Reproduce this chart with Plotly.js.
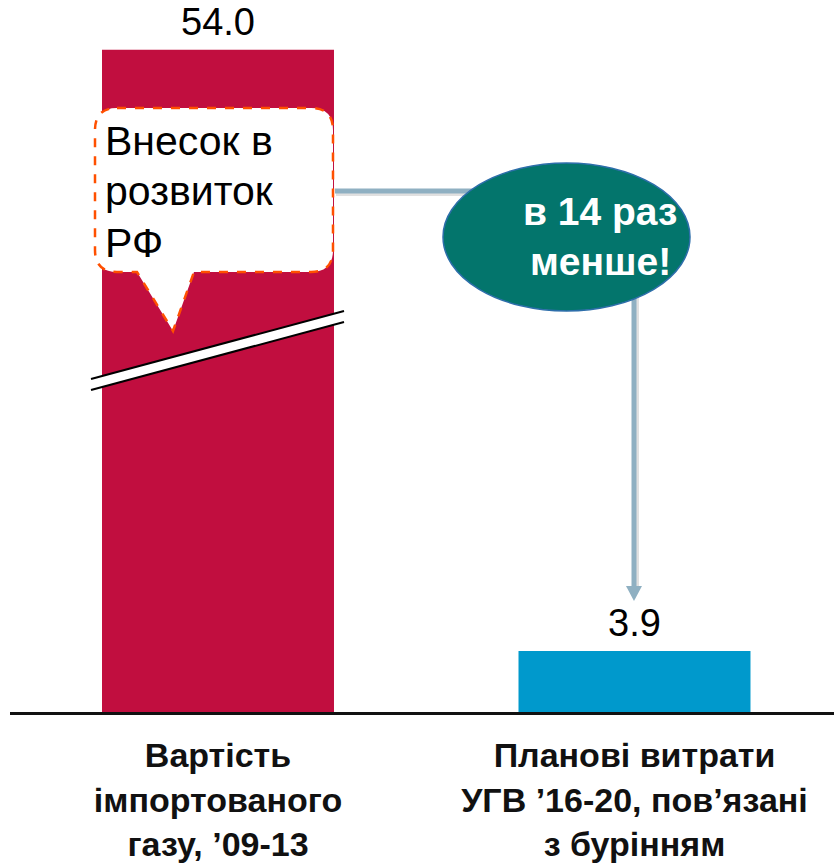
<!DOCTYPE html>
<html>
<head>
<meta charset="utf-8">
<script src="https://cdn.plot.ly/plotly-3.0.1.min.js"></script>
<style>
  html, body { margin: 0; padding: 0; background: #fff; }
  #chart { width: 834px; height: 867px; }
</style>
</head>
<body>
<div id="chart"></div>
<script>
// ---- data ----
const categories = [
  ['Вартість', 'імпортованого', 'газу, ’09-13'],
  ['Планові витрати', 'УГВ ’16-20, пов’язані', 'з бурінням']
];
const values = [54.0, 3.9];
const barColors = ['#C10E3F', '#0099CC'];
const calloutLines = ['Внесок в', 'розвиток', 'РФ'];
const badgeLines = ['в 14 раз', 'менше!'];

// broken value axis: values above breakStart are shifted down by breakSize
const breakStart = 23.1;
const breakSize = 11.7;
const toAxis = v => (v > breakStart ? v - breakSize : v);

// ---- geometry helpers (page pixels -> paper coords) ----
const W = 834, H = 867;
const M = { l: 10, r: 0, t: 20, b: 155 };
const PW = W - M.l - M.r, PH = H - M.t - M.b;
const px = x => (x - M.l) / PW;
const py = y => (M.t + PH - y) / PH;
const P = (x, y) => px(x).toFixed(5) + ',' + py(y).toFixed(5);

const xs = categories.map((_, i) => i);
const yPlot = values.map(toAxis);

const trace = {
  type: 'bar',
  x: xs,
  y: yPlot,
  width: 0.557,
  marker: { color: barColors, line: { width: 0 } },
  hoverinfo: 'skip'
};

const annotations = [];
// value labels
values.forEach((v, i) => {
  annotations.push({
    x: xs[i], y: yPlot[i], xref: 'x', yref: 'y',
    text: v.toFixed(1), showarrow: false,
    yanchor: 'bottom', yshift: 5,
    font: { family: 'Liberation Sans, Arial, sans-serif', size: 38, color: '#000' }
  });
});
// callout text
const calloutCenters = [141, 191, 243];
calloutLines.forEach((t, i) => {
  annotations.push({
    x: px(103), y: py(calloutCenters[i]), xref: 'paper', yref: 'paper',
    text: t, showarrow: false, xanchor: 'left', yanchor: 'middle',
    font: { family: 'Liberation Sans, Arial, sans-serif', size: 41, color: '#000' }
  });
});
// badge text
const badgeCenters = [211, 261];
badgeLines.forEach((t, i) => {
  annotations.push({
    x: px(600), y: py(badgeCenters[i]), xref: 'paper', yref: 'paper',
    text: t, showarrow: false, xanchor: 'center', yanchor: 'middle',
    font: { family: 'Liberation Sans, Arial, sans-serif', size: 39, color: '#fff', weight: 'bold' }
  });
});

const connColor = '#8FB0C2';
const shapes = [
  // break marks
  { type: 'path', xref: 'paper', yref: 'paper',
    path: 'M' + P(91, 379) + ' L' + P(344, 311) + ' L' + P(344, 322) + ' L' + P(91, 390) + ' Z',
    fillcolor: '#fff', line: { width: 0 } },
  { type: 'line', xref: 'paper', yref: 'paper', x0: px(91), y0: py(379), x1: px(344), y1: py(311),
    line: { color: '#000', width: 2 } },
  { type: 'line', xref: 'paper', yref: 'paper', x0: px(91), y0: py(390), x1: px(344), y1: py(322),
    line: { color: '#000', width: 2 } },
  // callout bubble
  { type: 'path', xref: 'paper', yref: 'paper',
    path: 'M' + P(117, 108) + ' L' + P(311, 108) + ' Q' + P(333, 108) + ' ' + P(333, 130) +
          ' L' + P(333, 250) + ' Q' + P(333, 272) + ' ' + P(311, 272) +
          ' L' + P(194, 272) + ' L' + P(173, 331) + ' L' + P(137, 272) +
          ' L' + P(117, 272) + ' Q' + P(95, 272) + ' ' + P(95, 250) +
          ' L' + P(95, 130) + ' Q' + P(95, 108) + ' ' + P(117, 108) + ' Z',
    fillcolor: '#fff', line: { color: '#FF5000', width: 2.5, dash: 'dash' } },
  // connector shadows
  { type: 'line', xref: 'paper', yref: 'paper', x0: px(336), y0: py(193), x1: px(480), y1: py(193),
    line: { color: 'rgba(0,0,0,0.12)', width: 6 } },
  { type: 'line', xref: 'paper', yref: 'paper', x0: px(636), y0: py(290), x1: px(636), y1: py(590),
    line: { color: 'rgba(0,0,0,0.12)', width: 6 } },
  // connectors
  { type: 'line', xref: 'paper', yref: 'paper', x0: px(335), y0: py(191), x1: px(480), y1: py(191),
    line: { color: connColor, width: 5 } },
  { type: 'line', xref: 'paper', yref: 'paper', x0: px(634), y0: py(290), x1: px(634), y1: py(588),
    line: { color: connColor, width: 5 } },
  { type: 'path', xref: 'paper', yref: 'paper',
    path: 'M' + P(626, 586) + ' L' + P(642, 586) + ' L' + P(634, 601) + ' Z',
    fillcolor: connColor, line: { width: 0 } },
  // badge ellipse
  { type: 'circle', xref: 'paper', yref: 'paper', x0: px(443), x1: px(690), y0: py(311), y1: py(163),
    fillcolor: '#03756C', line: { color: '#2D6EAA', width: 1.5 } }
];

const layout = {
  width: W, height: H,
  margin: M,
  paper_bgcolor: '#fff', plot_bgcolor: '#fff',
  showlegend: false,
  xaxis: {
    range: [-0.4994, 1.479],
    tickvals: xs,
    ticktext: categories.map(c => c.join('<br>')),
    tickfont: { family: 'Liberation Sans, Arial, sans-serif', size: 34, color: '#111', weight: 'bold' },
    ticks: '', showgrid: false, zeroline: false,
    showline: true, linecolor: '#111', linewidth: 2.5,
    ticklabelstandoff: 12,
    fixedrange: true
  },
  yaxis: {
    range: [0, 44.2], visible: false, showgrid: false, zeroline: false, fixedrange: true
  },
  annotations: annotations,
  shapes: shapes
};

Plotly.newPlot('chart', [trace], layout, { displayModeBar: false, staticPlot: true });
</script>
</body>
</html>
